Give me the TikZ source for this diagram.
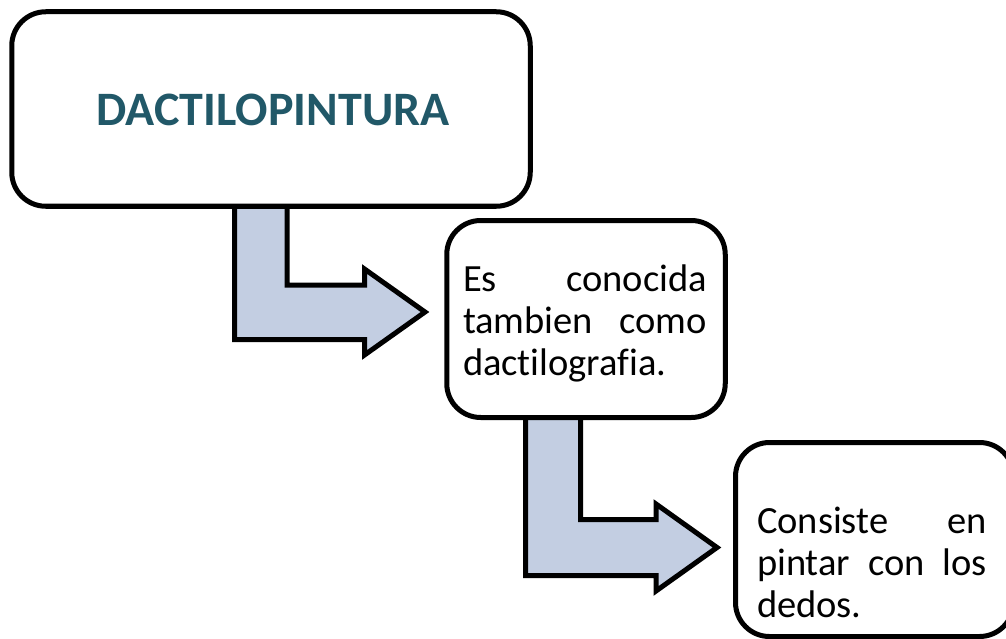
\documentclass[tikz,border=0pt]{standalone}
\usepackage{fontspec}
\setmainfont{Carlito}[Ligatures=CommonOff]
\usetikzlibrary{backgrounds}
\definecolor{titlecol}{HTML}{215868}
\definecolor{arrowfill}{HTML}{C3CEE2}
\begin{document}
\begin{tikzpicture}[x=1pt,y=-1pt,
  box/.style={draw, line width=5pt, rounded corners=34pt, fill=white, inner sep=0pt},
  body/.style={font=\fontsize{38.5}{42}\selectfont, inner sep=0pt, align=left},
  bent/.style={draw, line width=5pt, fill=arrowfill, line join=miter}]
\useasboundingbox (0,0) rectangle (1006,639);
\clip (0,0) rectangle (1006,639);
\node[box, minimum width=518.5pt, minimum height=194.5pt] (t) at (271,109) {};
\node[font=\fontsize{48}{56}\selectfont\bfseries, text=titlecol, inner sep=0pt] (tt) at (273,110) {DACTILOPINTURA};
\node[box, minimum width=278.5pt, minimum height=197pt] (b) at (586,319) {};
\node[body, text width=244pt] (bt) at (585,323)
  {Es\hfill conocida\\tambien\hfill como\\dactilografia.};
\node[box, minimum width=278pt, minimum height=194pt] (c) at (874.5,539.5) {};
\node[body, text width=230pt] (ct) at (872,562)
  {Consiste\hfill en\\pintar\hfill con\hfill los\\dedos.};
\begin{pgfonlayer}{background}
\draw[bent] (234.5,200) -- (234.5,339.5) -- (364.5,339.5) -- (364.5,355) -- (425,312)
  -- (364.5,269) -- (364.5,285) -- (287,285) -- (287,200) -- cycle;
\draw[bent] (525.5,410) -- (525.5,575.5) -- (656,575.5) -- (656,591) -- (717,547.5)
  -- (656,504) -- (656,519.5) -- (580.5,519.5) -- (580.5,410) -- cycle;
\end{pgfonlayer}
\end{tikzpicture}
\end{document}
